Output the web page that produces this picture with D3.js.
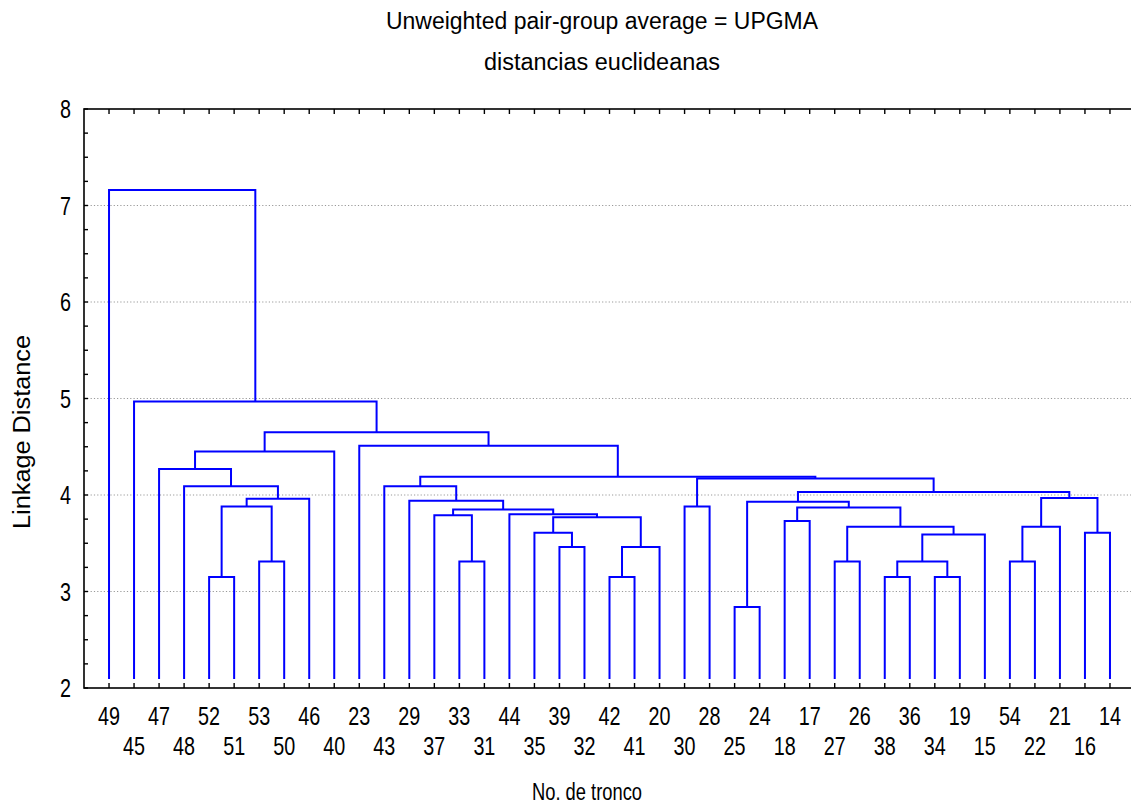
<!DOCTYPE html>
<html>
<head>
<meta charset="utf-8">
<script src="https://cdn.jsdelivr.net/npm/d3@7"></script>
<style>
  body { margin: 0; background: #fff; }
  text { font-family: "Liberation Sans Narrow", "Arial Narrow", "Liberation Sans", sans-serif; fill: #000; }
</style>
</head>
<body>
<script>
// leaf order along the x axis (No. de tronco)
const leafOrder = [49, 45, 47, 48, 52, 51, 53, 50, 46, 40, 23, 43, 29, 37, 33, 31, 44, 35, 39, 32, 42, 41,
  20, 30, 28, 25, 24, 18, 17, 27, 26, 38, 36, 34, 19, 15, 54, 22, 21, 16, 14];

// merges: numbers are leaves, "mN" refers to merge N
const merges = [
  [52, 51], [53, 50], ["m0", "m1"], ["m2", 46], [48, "m3"], [47, "m4"], ["m5", 40],
  [33, 31], [37, "m7"], [39, 32], [35, "m9"], [42, 41], ["m11", 20], ["m10", "m12"],
  [44, "m13"], ["m8", "m14"], [29, "m15"], [43, "m16"],
  [30, 28], [25, 24], [18, 17], [27, 26], [38, 36], [34, 19], ["m22", "m23"], ["m24", 15],
  ["m21", "m25"], ["m20", "m26"], ["m19", "m27"], [54, 22], ["m29", 21], [16, 14],
  ["m30", "m31"], ["m28", "m32"], ["m18", "m33"], ["m17", "m34"], [23, "m35"],
  ["m6", "m36"], [45, "m37"], [49, "m38"]
];
// linkage distance of each merge
const heights = [
  3.15, 3.31, 3.88, 3.96, 4.09, 4.27, 4.45,
  3.31, 3.79, 3.46, 3.61, 3.15, 3.46, 3.77,
  3.80, 3.85, 3.94, 4.09,
  3.88, 2.84, 3.73, 3.31, 3.15, 3.15, 3.31, 3.59,
  3.67, 3.87, 3.93, 3.31, 3.67, 3.61,
  3.97, 4.03, 4.17, 4.19, 4.51,
  4.65, 4.97, 7.16
];
const yTicks = [2, 3, 4, 5, 6, 7, 8];

const width = 1131, height = 805;
const margin = {left: 84, top: 109, bottom: 688, right: 1135};

const svg = d3.select("body").append("svg")
  .attr("width", width)
  .attr("height", height);

const x = d3.scaleLinear().domain([0, leafOrder.length + 1]).range([margin.left, margin.right]);
const y = d3.scaleLinear().domain([2, 8]).range([margin.bottom, margin.top]);

// grid
svg.append("g")
  .selectAll("line")
  .data(yTicks.slice(1, -1))
  .join("line")
  .attr("x1", margin.left).attr("x2", margin.right)
  .attr("y1", d => y(d)).attr("y2", d => y(d))
  .attr("stroke", "#999")
  .attr("stroke-width", 1.2)
  .attr("stroke-dasharray", "1.2,2.1");

// frame
svg.append("rect")
  .attr("x", margin.left).attr("y", margin.top)
  .attr("width", margin.right - margin.left).attr("height", margin.bottom - margin.top)
  .attr("fill", "none").attr("stroke", "#000").attr("stroke-width", 1.6);

// ticks
const ticks = svg.append("g").attr("stroke", "#000").attr("stroke-width", 1.4);
ticks.selectAll(".yt")
  .data(d3.range(2, 8.001, 0.25))
  .join("line")
  .attr("x1", margin.left).attr("x2", margin.left + 4)
  .attr("y1", d => y(d)).attr("y2", d => y(d));
ticks.selectAll(".xb")
  .data(leafOrder)
  .join("line")
  .attr("x1", (d, i) => x(i + 1)).attr("x2", (d, i) => x(i + 1))
  .attr("y1", margin.bottom).attr("y2", margin.bottom - 5);
ticks.selectAll(".xt")
  .data(leafOrder)
  .join("line")
  .attr("class", "xt")
  .attr("x1", (d, i) => x(i + 1)).attr("x2", (d, i) => x(i + 1))
  .attr("y1", margin.top).attr("y2", margin.top + 5);

// y tick labels
svg.append("g")
  .selectAll("text")
  .data(yTicks)
  .join("text")
  .attr("x", 71)
  .attr("y", d => y(d))
  .attr("dy", "0.36em")
  .attr("text-anchor", "end")
  .attr("font-size", 25)
  .attr("textLength", 11).attr("lengthAdjust", "spacingAndGlyphs")
  .text(d => d);

// leaf labels, staggered on two rows
svg.append("g")
  .selectAll("text")
  .data(leafOrder)
  .join("text")
  .attr("x", (d, i) => x(i + 1))
  .attr("y", (d, i) => i % 2 === 0 ? 725 : 755)
  .attr("text-anchor", "middle")
  .attr("font-size", 25)
  .attr("textLength", 22).attr("lengthAdjust", "spacingAndGlyphs")
  .text(d => d);

// build tree
const made = {};
const get = k => typeof k === "number" ? {name: String(k)} : made[k];
merges.forEach((m, i) => {
  made["m" + i] = {name: "m" + i, height: heights[i], children: [get(m[0]), get(m[1])]};
});
const root = d3.hierarchy(made["m" + (merges.length - 1)]);
const leafBottom = y(2) - 9;
root.eachAfter(d => {
  if (!d.children) {
    d.px = x(leafOrder.indexOf(+d.data.name) + 1);
    d.py = leafBottom;
  } else {
    d.px = d3.mean(d.children, c => c.px);
    d.py = y(d.data.height);
  }
});

svg.append("g")
  .attr("fill", "none")
  .attr("stroke", "#0000ff")
  .attr("stroke-width", 2)
  .selectAll("path")
  .data(root.descendants().filter(d => d.children))
  .join("path")
  .attr("d", d => {
    const [a, b] = d.children;
    return `M${a.px},${a.py}V${d.py}H${b.px}V${b.py}`;
  });

// titles
svg.append("text")
  .attr("x", 602).attr("y", 29)
  .attr("text-anchor", "middle")
  .attr("font-size", 23)
  .attr("textLength", 432).attr("lengthAdjust", "spacingAndGlyphs")
  .text("Unweighted pair-group average = UPGMA");
svg.append("text")
  .attr("x", 602).attr("y", 70)
  .attr("text-anchor", "middle")
  .attr("font-size", 23)
  .attr("textLength", 236).attr("lengthAdjust", "spacingAndGlyphs")
  .text("distancias euclideanas");
svg.append("text")
  .attr("x", 587).attr("y", 800)
  .attr("text-anchor", "middle")
  .attr("font-size", 23)
  .attr("textLength", 110).attr("lengthAdjust", "spacingAndGlyphs")
  .text("No. de tronco");
svg.append("text")
  .attr("transform", "translate(30,432) rotate(-90)")
  .attr("text-anchor", "middle")
  .attr("font-size", 23)
  .attr("textLength", 194).attr("lengthAdjust", "spacingAndGlyphs")
  .text("Linkage Distance");
</script>
</body>
</html>
